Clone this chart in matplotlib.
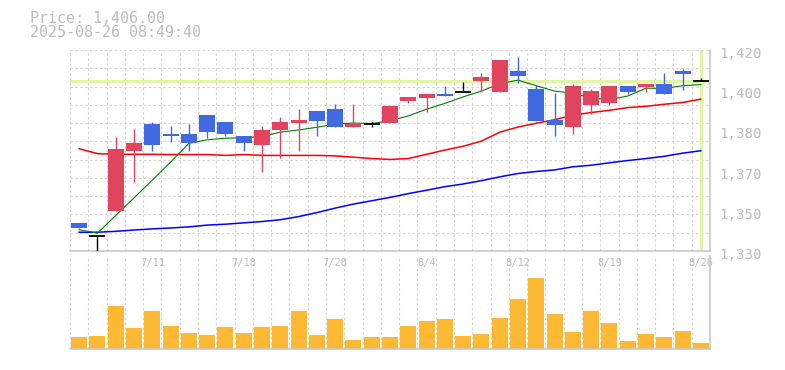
import matplotlib
matplotlib.use('Agg')
import matplotlib.pyplot as plt
import matplotlib.transforms as mtransforms
import numpy as np

# ---------------- data ----------------
dates = ['7/7', '7/8', '7/9', '7/10', '7/11', '7/14', '7/15', '7/16', '7/17', '7/18',
         '7/22', '7/23', '7/24', '7/25', '7/28', '7/29', '7/30', '7/31', '8/1', '8/4',
         '8/5', '8/6', '8/7', '8/8', '8/12', '8/13', '8/14', '8/15', '8/18', '8/19',
         '8/20', '8/21', '8/22', '8/25', '8/26']

opens = [1342.5, 1336.5, 1348.0, 1375.0, 1386.7, 1382.6, 1382.6, 1390.7, 1387.6, 1381.7,
         1377.4, 1384.1, 1387.1, 1392.5, 1393.4, 1385.5, 1386.7, 1387.3, 1397.2, 1398.5,
         1400.5, 1401.4, 1406.0, 1401.2, 1410.4, 1402.4, 1388.5, 1385.5, 1395.2, 1396.1,
         1403.8, 1403.3, 1404.7, 1410.5, 1406.0]
highs = [1342.5, 1336.5, 1381.0, 1384.5, 1387.6, 1385.8, 1386.7, 1390.7, 1387.6, 1381.7,
         1385.8, 1389.9, 1393.5, 1392.5, 1395.7, 1395.7, 1387.7, 1394.8, 1398.9, 1400.5,
         1403.8, 1405.6, 1409.7, 1415.5, 1416.9, 1404.4, 1400.6, 1404.7, 1402.4, 1403.8,
         1403.8, 1404.7, 1409.6, 1411.4, 1407.6]
lows = [1340.5, 1330.0, 1348.0, 1361.0, 1375.0, 1379.0, 1375.0, 1380.4, 1381.4, 1375.0,
        1365.2, 1371.5, 1375.0, 1381.3, 1385.5, 1385.5, 1385.5, 1387.3, 1396.2, 1392.2,
        1399.4, 1401.4, 1401.4, 1401.2, 1405.3, 1388.2, 1381.4, 1382.2, 1391.3, 1395.2,
        1400.2, 1401.2, 1400.2, 1402.1, 1406.0]
closes = [1340.5, 1336.5, 1375.5, 1378.5, 1377.4, 1381.3, 1378.3, 1383.3, 1382.3, 1378.3,
          1384.4, 1387.6, 1388.5, 1388.0, 1385.5, 1386.7, 1386.7, 1394.8, 1398.9, 1400.5,
          1399.4, 1401.4, 1407.9, 1415.5, 1408.3, 1388.2, 1386.4, 1403.8, 1401.5, 1403.8,
          1401.2, 1404.7, 1400.2, 1409.3, 1406.0]

ma_short = [1339.5, 1338.0, 1345.9, 1353.8, 1361.7, 1369.8, 1378.2, 1379.8, 1380.5, 1380.7,
            1381.3, 1383.2, 1384.2, 1385.4, 1386.8, 1387.3, 1387.1, 1388.3, 1390.5, 1393.5,
            1396.1, 1399.0, 1401.6, 1404.9, 1406.5, 1404.0, 1401.6, 1400.7, 1398.5, 1397.8,
            1399.4, 1402.9, 1402.8, 1404.0, 1404.5]
ma_mid = [1375.8, 1373.6, 1373.3, 1373.3, 1373.3, 1373.2, 1373.2, 1373.2, 1372.8, 1373.2,
          1372.8, 1372.8, 1372.8, 1372.8, 1372.6, 1372.0, 1371.4, 1371.0, 1371.4, 1373.3,
          1375.2, 1376.9, 1379.2, 1383.2, 1385.5, 1387.2, 1388.8, 1390.8, 1392.0, 1393.0,
          1394.2, 1394.8, 1395.7, 1396.5, 1398.0]
ma_long = [1338.4, 1338.4, 1338.8, 1339.4, 1339.9, 1340.3, 1340.8, 1341.6, 1342.0, 1342.6,
           1343.2, 1344.0, 1345.4, 1347.2, 1349.2, 1351.0, 1352.5, 1354.0, 1355.7, 1357.2,
           1358.8, 1360.0, 1361.5, 1363.2, 1364.7, 1365.6, 1366.3, 1367.7, 1368.4, 1369.5,
           1370.5, 1371.4, 1372.4, 1373.8, 1374.9]

volumes = [12, 13, 43, 21, 38, 23, 16, 14, 22, 16,
           22, 23, 38, 14, 30, 9, 12, 12, 23, 28,
           30, 13, 15, 31, 50, 71, 35, 17, 38, 26,
           8, 15, 12, 18, 6]

current_price = 1406.0
timestamp = '2025-08-26 08:49:40'
xtick_dates = ['7/11', '7/18', '7/28', '8/4', '8/12', '8/19', '8/26']
ytick_values = [1330, 1348, 1366, 1384, 1402, 1420]
ytick_labels = ['1,330', '1,350', '1,370', '1,380', '1,400', '1,420']

# ---------------- style ----------------
W, H = 785, 370
GRID = '#d4d4d4'
SPINE = '#c4c4c4'
TXT = '#bdbdbd'
UP = '#e0445e'
DOWN = '#4169e1'
HILITE = '#e2f5a6'
VOLC = '#fdb933'
MONO = 'DejaVu Sans Mono'
dash = (0, (2.2, 2.2))

fig = plt.figure(figsize=(W / 100, H / 100), dpi=100)
fig.patch.set_facecolor('white')


def frac(x0, y0, x1, y1):
    return [x0 / W, 1 - y1 / H, (x1 - x0) / W, (y1 - y0) / H]


x = np.arange(len(dates))
n = len(dates)

axv = fig.add_axes(frac(70, 256, 710, 349))
axp = fig.add_axes(frac(70, 50, 710, 251))

for ax in (axv, axp):
    ax.set_xlim(-0.5, n - 0.5)
    for s in ('left', 'top'):
        ax.spines[s].set_visible(False)
    for s in ('right', 'bottom'):
        ax.spines[s].set_color(SPINE)
        ax.spines[s].set_linewidth(1.1)
    for b in np.arange(-0.5, n - 1, 1.0):
        ax.axvline(b, color=GRID, lw=0.8, ls=dash, zorder=0)

# volume panel
axv.bar(x, volumes, width=0.88, color=VOLC, zorder=2)
axv.set_ylim(0, 93)
axv.set_xticks([])
axv.set_yticks([])

# price panel
axp.set_ylim(1330, 1420)
for v in np.linspace(1330, 1420, 12)[1:]:
    axp.axhline(v, color=GRID, lw=0.8, ls=dash, zorder=0)

axp.axhline(current_price, color=HILITE, lw=2.2, zorder=1)
axp.axvline(x[-1], ymin=0.015, ymax=0.99, color=HILITE, lw=2.2, zorder=1)

axp.plot(x, ma_long, color='#0000ff', lw=1.1, zorder=2)
axp.plot(x, ma_mid, color='#ff0000', lw=1.1, zorder=2)
axp.plot(x, ma_short, color='#008000', lw=0.8, zorder=2)

for i in range(n):
    o, h, l, c = opens[i], highs[i], lows[i], closes[i]
    if c > o:
        col = UP
    elif c < o:
        col = DOWN
    else:
        col = 'black'
    axp.vlines(x[i], l, h, color=col, lw=1.0, zorder=3)
    if c == o:
        axp.hlines(o, x[i] - 0.44, x[i] + 0.44, color=col, lw=1.3, zorder=4)
    else:
        axp.bar(x[i], abs(c - o), bottom=min(o, c), width=0.88, color=col, zorder=4)

axp.set_xticks([dates.index(d) for d in xtick_dates])
axp.set_xticklabels(xtick_dates, family=MONO)
axp.tick_params(axis='x', length=0, pad=5, labelsize=7.5, labelcolor=TXT)

axp.yaxis.tick_right()
axp.set_yticks(ytick_values)
axp.set_yticklabels(ytick_labels, family=MONO)
axp.tick_params(axis='y', length=0, pad=7, labelsize=10.2, labelcolor=TXT)
shift = mtransforms.ScaledTranslation(0, -2.5 / 100, fig.dpi_scale_trans)
for lab in axp.get_yticklabels():
    lab.set_transform(lab.get_transform() + shift)

fig.text(30 / W, 1 - 22.7 / H, f'Price: {current_price:,.2f}', family=MONO,
         fontsize=10.8, color=TXT, va='baseline', ha='left')
fig.text(30 / W, 1 - 37.3 / H, timestamp, family=MONO,
         fontsize=10.8, color=TXT, va='baseline', ha='left')

fig.savefig('out.png', dpi=100)
